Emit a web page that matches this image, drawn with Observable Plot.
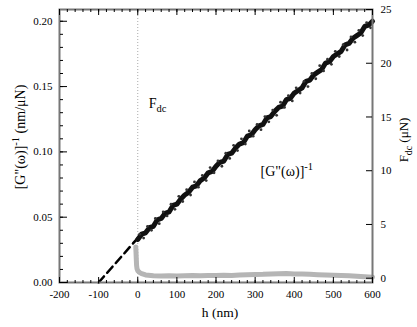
<!DOCTYPE html>
<html><head><meta charset="utf-8">
<script src="https://cdn.jsdelivr.net/npm/d3@7"></script>
<script src="https://cdn.jsdelivr.net/npm/@observablehq/plot@0.6"></script>
<style>
body{margin:0;background:#fff}
svg, svg text {font-family: "Liberation Serif", "Times New Roman", serif !important;}
</style>
</head><body><div id="chart"></div>
<script>
// [G"(w)]^-1 (nm/uN) vs h (nm) — main trace
const hLine = [0,10,20,30,40,50,60,70,80,90,100,110,120,130,140,150,160,170,180,190,200,210,220,230,240,250,260,270,280,290,300,310,320,330,340,350,360,370,380,390,400,410,420,430,440,450,460,470,480,490,500,510,520,530,540,550,560,570,580,590,600];
const gLine = [0.033,0.037,0.038,0.042,0.043,0.048,0.049,0.053,0.054,0.059,0.060,0.064,0.067,0.069,0.073,0.074,0.078,0.080,0.084,0.085,0.089,0.092,0.093,0.098,0.099,0.103,0.106,0.107,0.112,0.113,0.117,0.120,0.121,0.126,0.127,0.131,0.134,0.135,0.140,0.141,0.145,0.147,0.149,0.154,0.155,0.159,0.161,0.163,0.168,0.169,0.173,0.175,0.177,0.182,0.183,0.187,0.189,0.191,0.196,0.197,0.200];
// scattered points around the trace
const hScatter = [5,15,25,35,45,55,65,75,85,95,105,115,125,135,145,155,165,175,185,195,205,215,225,235,245,255,265,275,285,295,305,315,325,335,345,355,365,375,385,395,405,415,425,435,445,455,465,475,485,495,505,515,525,535,545,555,565,575,585,595];
const gScatter = [0.037,0.034,0.043,0.040,0.049,0.045,0.054,0.051,0.060,0.056,0.066,0.062,0.071,0.067,0.077,0.073,0.082,0.078,0.088,0.084,0.093,0.089,0.099,0.095,0.105,0.101,0.110,0.106,0.116,0.112,0.121,0.117,0.127,0.123,0.132,0.128,0.138,0.134,0.143,0.139,0.149,0.145,0.154,0.150,0.160,0.156,0.166,0.162,0.171,0.167,0.177,0.173,0.182,0.178,0.188,0.184,0.193,0.189,0.199,0.195];
// extrapolation (dashed)
const hDash = [-100, 0];
const gDash = [0.000, 0.034];
// F_dc (uN) vs h (nm) — grey trace
const hF = [-5,-4,-3,-2,0,4,10,20,40,60,80,100,120,140,160,180,200,220,240,260,280,300,320,340,360,380,400,420,440,460,480,500,520,540,560,580,600];
const fdc = [2.9,2.0,1.2,0.9,0.7,0.55,0.42,0.30,0.22,0.20,0.22,0.20,0.22,0.24,0.22,0.25,0.24,0.27,0.26,0.30,0.32,0.34,0.36,0.40,0.42,0.43,0.40,0.38,0.36,0.33,0.30,0.28,0.25,0.22,0.18,0.14,0.10];
// ticks
const xMajor = [-200,-100,0,100,200,300,400,500,600];
const yMajor = [0,0.05,0.10,0.15,0.20];
const fMajor = [0,5,10,15,20,25];
const xMinor = d3.range(-200, 601, 20);
const yMinor = d3.range(0, 0.2001, 0.01);
// text
const xTitle = "h (nm)";
const leftTitle = [{t:"[G\"(\u03c9)]"},{t:"-1",sup:true},{t:" (nm/\u03bcN)"}];
const rightTitle = [{t:"F"},{t:"dc",sub:true},{t:" (\u03bcN)"}];
const annF = [{t:"F"},{t:"dc",sub:true}];
const annG = [{t:"[G\"(\u03c9)]"},{t:"-1",sup:true}];
const annPos = [{key:"ANN_F", h:28, g:0.137}, {key:"ANN_G", h:314, g:0.0851}];

// right axis mapping (F_dc -> left scale)
const F0 = -0.4, F1 = 25.0, G1 = 0.209;
const f2g = f => (f - F0) / (F1 - F0) * G1;
const g2f = g => g / G1 * (F1 - F0) + F0;

const lineData = hLine.map((h,i)=>({h, g:gLine[i]}));
const scatData = hScatter.map((h,i)=>({h, g:gScatter[i]}));
const dashData = hDash.map((h,i)=>({h, g:gDash[i]}));
const fData = hF.map((h,i)=>({h, g:f2g(fdc[i])}));

const serif = "'Liberation Serif','Times New Roman',serif";
const chart = Plot.plot({
  width: 417, height: 327,
  marginLeft: 59, marginRight: 45, marginTop: 9, marginBottom: 45,
  x: {domain: [-200, 600]},
  y: {domain: [0, G1]},
  style: {fontFamily: serif, fontSize: "11px", color: "#000", background: "#fff"},
  marks: [
    Plot.ruleX([0], {stroke: "#aaa", strokeDasharray: "1,2"}),
    Plot.line(fData, {x:"h", y:"g", stroke:"#b5b5b5", strokeWidth:5, strokeLinejoin:"round"}),
    Plot.line(dashData, {x:"h", y:"g", stroke:"#000", strokeWidth:2.6, strokeDasharray:"8,5"}),
    Plot.line(lineData, {x:"h", y:"g", stroke:"#111", strokeWidth:5}),
    Plot.dot(scatData, {x:"h", y:"g", r:1.4, fill:"#333"}),
    Plot.frame({stroke:"#777", strokeWidth:2}),
    // inward ticks, bottom
    Plot.axisX({anchor:"top", frameAnchor:"bottom", ticks:xMinor, tickSize:3, fill:"none", label:null}),
    Plot.axisX({anchor:"top", frameAnchor:"bottom", ticks:xMajor, tickSize:6, fill:"none", label:null}),
    // inward ticks, top
    Plot.axisX({anchor:"bottom", frameAnchor:"top", ticks:xMinor, tickSize:3, fill:"none", label:null}),
    Plot.axisX({anchor:"bottom", frameAnchor:"top", ticks:xMajor, tickSize:6, fill:"none", label:null}),
    Plot.axisX({anchor:"bottom", ticks:xMajor, tickSize:0, tickPadding:8, tickFormat: d => String(d), label:null}),
    // left axis
    Plot.axisY({anchor:"right", frameAnchor:"left", ticks:yMinor, tickSize:3, fill:"none", label:null}),
    Plot.axisY({anchor:"right", frameAnchor:"left", ticks:yMajor, tickSize:7, fill:"none", label:null}),
    Plot.axisY({anchor:"left", ticks:yMajor, tickSize:0, tickPadding:7, tickFormat: d3.format(".2f"), label:null}),
    // right axis (F_dc)
    Plot.axisY({anchor:"left", frameAnchor:"right", ticks:fMajor.map(f2g), tickSize:6, fill:"none", label:null}),
    Plot.axisY({anchor:"right", ticks:fMajor.map(f2g), tickSize:0, tickPadding:8, tickFormat: d => String(Math.round(g2f(d))), label:null}),
    // titles
    Plot.text([xTitle], {text: d => d, frameAnchor:"bottom", textAnchor:"middle", lineAnchor:"middle", dy:30, dx:4, fontSize:13.5}),
    Plot.text(["LEFT_TITLE"], {text: d => d, frameAnchor:"left", textAnchor:"middle", lineAnchor:"middle", dx:-39, dy:-9, rotate:-90, fontSize:14}),
    Plot.text(["RIGHT_TITLE"], {text: d => d, frameAnchor:"right", textAnchor:"middle", lineAnchor:"middle", dx:31, dy:-6, rotate:-90, fontSize:13}),
    Plot.text(annPos, {x:"h", y:"g", text:"key", textAnchor:"start", fontSize:14})
  ]
});
document.getElementById("chart").appendChild(chart);

function rich(node, parts) {
  node.textContent = "";
  let shift = 0;
  for (const p of parts) {
    const ts = document.createElementNS("http://www.w3.org/2000/svg", "tspan");
    const target = p.sub ? 4 : p.sup ? -6 : 0;
    ts.setAttribute("dy", target - shift);
    shift = target;
    if (p.sub || p.sup) ts.setAttribute("font-size", "0.75em");
    ts.textContent = p.t;
    node.appendChild(ts);
  }
}
const map = {LEFT_TITLE: leftTitle, RIGHT_TITLE: rightTitle, ANN_F: annF, ANN_G: annG};
d3.select(chart).selectAll("text").each(function() {
  const k = this.textContent;
  if (map[k]) rich(this, map[k]);
});
</script>
</body></html>
